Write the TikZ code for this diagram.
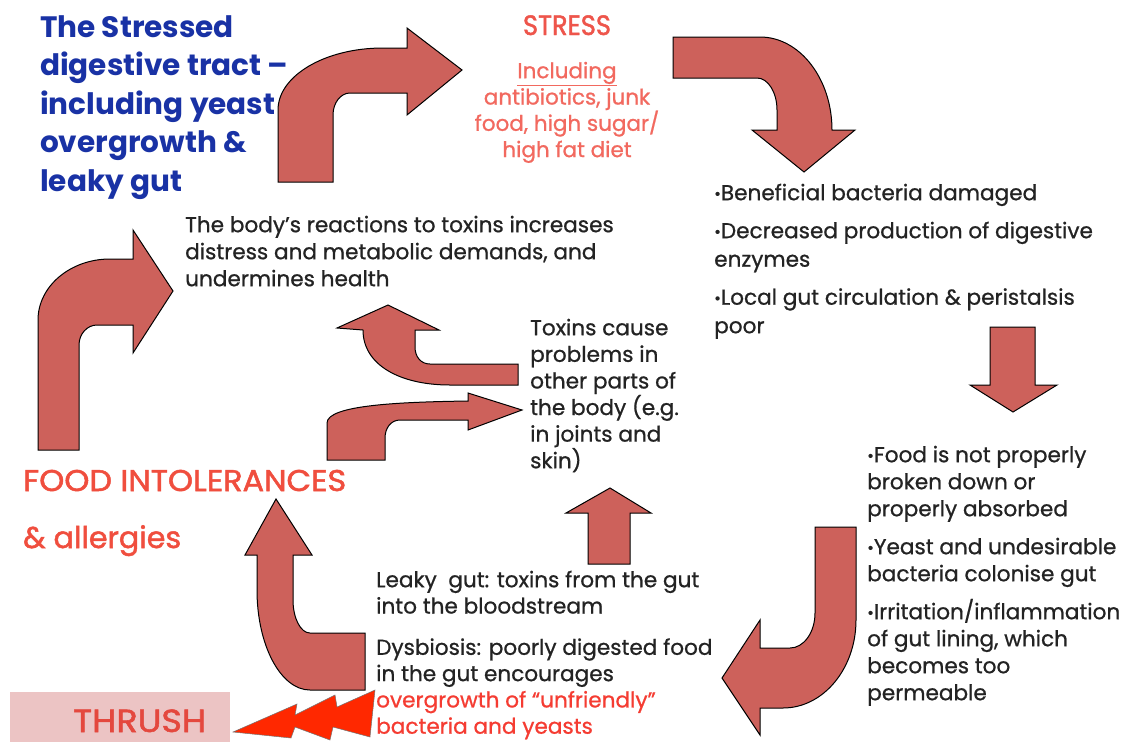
\documentclass[tikz,border=0pt]{standalone}
\usepackage{fontspec}
\usepackage{graphicx}
\setmainfont{Poppins}
\newfontfamily\medfont[FakeBold=0.8]{Poppins}
\newfontfamily\semifont[FakeBold=1.6]{Poppins}
\definecolor{arrowred}{RGB}{205,97,91}
\definecolor{titleblue}{RGB}{25,50,165}
\definecolor{stressred}{RGB}{238,85,75}
\definecolor{inclred}{RGB}{242,105,95}
\definecolor{foodred}{RGB}{240,78,62}
\definecolor{thrushpink}{RGB}{236,196,196}
\definecolor{thrushred}{RGB}{228,72,62}
\definecolor{boltred}{RGB}{255,40,0}
\definecolor{bodytext}{RGB}{35,35,35}
\definecolor{overred}{RGB}{245,60,50}
\newcommand\mybul{\raisebox{0.04em}{\scalebox{0.75}{•}}}
\tikzset{
  bigarrow/.style={fill=arrowred, draw=black, line width=1pt, line join=miter},
  bodytxt/.style={inner sep=0pt, anchor=north west, align=left, text=bodytext},
  redlabel/.style={inner sep=0pt, anchor=base west},
}
\begin{document}
\begin{tikzpicture}[x=1pt,y=-1pt]
\useasboundingbox (0,0) rectangle (1123,742);
\fill[white] (0,0) rectangle (1123,742);

% ---------- arrows ----------
% A: top-left, up then right to STRESS
\draw[bigarrow] (278,182) -- (278,110) .. controls (278,75.8) and (325,48) .. (383,48)
  -- (407,48) -- (407,28) -- (462,70) -- (407,115) -- (407,93) -- (350,93)
  .. controls (340.6,93) and (333,102.9) .. (333,115) -- (333,182) -- cycle;
% B: from STRESS, right then down
\draw[bigarrow] (673,37) -- (760,37) .. controls (799.7,37) and (832,78.7) .. (832,130)
  -- (855,130) -- (804,172) -- (752,130) -- (777,130) -- (777,110)
  .. controls (777,92.3) and (768,78) .. (757,78) -- (673,78) -- cycle;
% C: straight down on the right
\draw[bigarrow] (990,327) -- (1035,327) -- (1035,385) -- (1057,385) -- (1013,412)
  -- (970,385) -- (990,385) -- cycle;
% D: down then left (bottom right)
\draw[bigarrow] (815,527) -- (856,527) -- (856,620) .. controls (856,668.6) and (823.3,708) .. (783,708)
  -- (760,708) -- (760,735) -- (722,678) -- (760,620) -- (760,648) -- (790,648)
  .. controls (803.8,648) and (815,632.3) .. (815,613) -- cycle;
% E: bottom, up to FOOD INTOLERANCES
\draw[bigarrow] (365,690) -- (310,690) .. controls (280.7,690) and (257,645.2) .. (257,590)
  -- (257,555) -- (245,555) -- (276,499) -- (312,555) -- (293,555) -- (293,600)
  .. controls (293,618.2) and (300.6,633) .. (310,633) -- (365,633) -- cycle;
% F: left, up then right
\draw[bigarrow] (38,450) -- (38,320) .. controls (38,286.3) and (70.3,259) .. (110,259)
  -- (133,259) -- (133,230) -- (173,291) -- (133,353) -- (133,325) -- (97,325)
  .. controls (87.1,325) and (79,334) .. (79,345) -- (79,450) -- cycle;
% G: from Toxins box, left then up
\draw[bigarrow] (518,364) -- (518,385) -- (450,385) .. controls (400,385) and (363,365) .. (363,330)
  -- (337,328) -- (388,305) -- (439,330) -- (415,330) -- (415,347)
  .. controls (415,357) and (421,364) .. (430,364) -- cycle;
% H: from Food intolerances, up then right to Toxins box
\draw[bigarrow] (327,460) -- (327,423) .. controls (327,405) and (400,402) .. (468,401)
  -- (468,393) -- (522,410) -- (468,430) -- (468,420) -- (400,420)
  .. controls (391,420) and (385,428) .. (385,438) -- (385,460) -- cycle;
% I: straight up in the middle
\draw[bigarrow] (588,564) -- (588,513) -- (566,513) -- (610,488) -- (651,513)
  -- (630,513) -- (630,564) -- cycle;

% ---------- thrush box and bolt ----------
\fill[thrushpink] (10,692) rectangle (230,742);
\filldraw[fill=boltred, draw=black!55, line width=0.5pt, line join=miter]
  (233,732) -- (297,704) -- (295,715) -- (335,695) -- (337,707) -- (375,690)
  -- (370,737) -- (333,727) -- (330,740) -- (295,727) -- (291,738) -- cycle;

% ---------- texts ----------
\node[inner sep=0pt, anchor=north west, align=left, text=titleblue,
  font=\fontsize{29.5}{38.5}\selectfont\bfseries] (title) at (40,10.05)
  {\strut The Stressed\\ digestive tract –\\ including yeast\\ overgrowth \&\\ leaky gut};

\node[inner sep=0pt, anchor=base, text=stressred, font=\fontsize{28}{30}\semifont] (stress) at (567,35)
  {\resizebox{88pt}{\height}{STRESS}};

\node[inner sep=0pt, anchor=north, align=center, text=inclred,
  font=\fontsize{21.5}{26.3}\medfont] (incl) at (567,59.6)
  {\strut\underline{Including}\\ antibiotics, junk\\ food, high sugar/\\ high fat diet};

\node[bodytxt, font=\fontsize{21.6}{27}\medfont] (reac) at (185,213.1)
  {\strut The body’s reactions to toxins increases\\ distress and metabolic demands, and\\ undermines health};

\node[bodytxt, font=\fontsize{21.6}{28.5}\medfont] (bact) at (714,180.05)
  {\strut\mybul Beneficial bacteria damaged\\[9.5pt] \mybul Decreased production of digestive\\ enzymes\\[9.5pt] \mybul Local gut circulation \& peristalsis\\ poor};

\node[bodytxt, font=\fontsize{21.6}{26.6}\medfont] (toxins) at (530,316.4)
  {\strut Toxins cause\\ problems in\\ other parts of\\ the body (e.g.\\ in joints and\\ skin)};

\node[bodytxt, font=\fontsize{21.6}{27}\medfont] (foodblk) at (867,443.1)
  {\strut\mybul Food is not properly\\ broken down or\\ properly absorbed\\[11pt] \mybul Yeast and undesirable\\ bacteria colonise gut\\[11pt] \mybul Irritation/inflammation\\ of gut lining, which\\ becomes too\\ permeable};

\node[bodytxt, font=\fontsize{21.6}{26.3}\medfont] (leaky) at (376,568.6)
  {\strut Leaky\ \ gut: toxins from the gut\\ into the bloodstream\\[15pt] Dysbiosis: poorly digested food\\ in the gut encourages\\ \textcolor{overred}{overgrowth of “unfriendly”}\\ \textcolor{overred}{bacteria and yeasts}};

\node[redlabel, text=foodred, font=\fontsize{30}{32}\semifont] (foodint) at (23,491)
  {\resizebox{323pt}{\height}{FOOD INTOLERANCES}};
\node[redlabel, text=foodred, font=\fontsize{30}{32}\semifont] (allerg) at (23,548)
  {\resizebox{158pt}{\height}{\& allergies}};
\node[redlabel, text=thrushred, font=\fontsize{32}{34}\semifont] (thrush) at (73,732)
  {\resizebox{133pt}{\height}{THRUSH}};
\end{tikzpicture}
\end{document}
